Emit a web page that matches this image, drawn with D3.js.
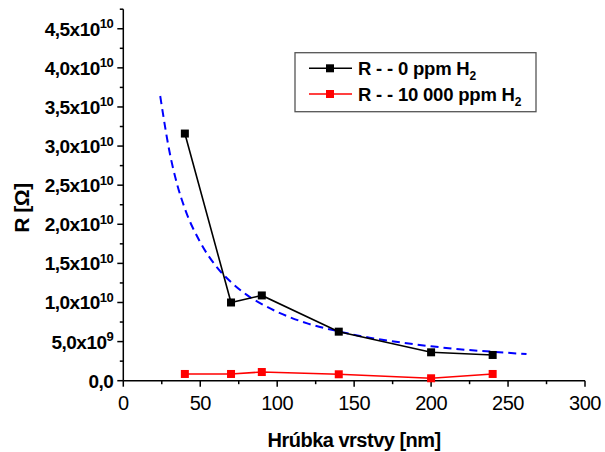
<!DOCTYPE html>
<html>
<head>
<meta charset="utf-8">
<script src="https://cdn.jsdelivr.net/npm/d3@7"></script>
<style>
  html, body { margin: 0; padding: 0; background: #fff; }
  svg { display: block; font-family: "Liberation Sans", Arial, sans-serif; }
</style>
</head>
<body>
<svg id="chart" width="605" height="452"></svg>
<script>
// Layer thickness (nm) and measured resistance (Ohm)
const thickness = [40, 70, 90, 140, 200, 240];
const r0ppm = [3.16e10, 1.0e10, 1.09e10, 6.27e9, 3.63e9, 3.29e9];
const r10000ppm = [8.6e8, 8.6e8, 1.11e9, 8.2e8, 3.1e8, 8.6e8];

// Fitted trend curve (dashed)
const fitX = [24, 30, 35, 40, 50, 60, 70, 80, 90, 100, 120, 140, 160, 180, 200, 220, 240, 262];
const fitY = [3.64e10, 2.93e10, 2.51e10, 2.20e10, 1.77e10, 1.47e10, 1.26e10, 1.10e10, 0.98e10,
              0.88e10, 0.73e10, 0.63e10, 0.55e10, 0.49e10, 0.44e10, 0.40e10, 0.37e10, 0.34e10];

// Axis ticks
const xTicks = [0, 50, 100, 150, 200, 250, 300];
const yTicks = [0, 5e9, 1e10, 1.5e10, 2e10, 2.5e10, 3e10, 3.5e10, 4e10, 4.5e10];
const yTickMantissa = ["0,0", "5,0", "1,0", "1,5", "2,0", "2,5", "3,0", "3,5", "4,0", "4,5"];
const yTickExponent = ["", "9", "10", "10", "10", "10", "10", "10", "10", "10"];

const legendLabels = ["R - - 0 ppm H", "R - - 10 000 ppm H"];
const seriesColors = ["#000000", "#ff0000"];

const svg = d3.select("#chart");
const plotLeft = 123.3, plotRight = 585, plotBottom = 380.7, plotTop = 9.2;

const x = d3.scaleLinear().domain([0, 300]).range([plotLeft, plotRight]);
const y = d3.scaleLinear().domain([0, 4.75e10]).range([plotBottom, plotTop]);

// X axis
const xAxis = svg.append("g").attr("transform", `translate(0,${plotBottom})`);
xAxis.append("line").attr("x1", plotLeft).attr("x2", plotRight).attr("stroke", "#000").attr("stroke-width", 1.5);
d3.range(0, 301, 25).forEach(v => {
  const major = v % 50 === 0;
  xAxis.append("line").attr("x1", x(v)).attr("x2", x(v))
    .attr("y1", 0).attr("y2", major ? 6 : 3.5)
    .attr("stroke", "#000").attr("stroke-width", 1.5);
});
xAxis.selectAll("text.tick").data(xTicks).enter().append("text")
  .attr("x", d => x(d)).attr("y", 29.5)
  .attr("text-anchor", "middle")
  .attr("font-size", 20).attr("fill", "#000")
  .attr("letter-spacing", -0.5)
  .text(d => d);

// Y axis
const yAxis = svg.append("g").attr("transform", `translate(${plotLeft},0)`);
yAxis.append("line").attr("y1", y(0)).attr("y2", y(4.75e10)).attr("stroke", "#000").attr("stroke-width", 1.5);
d3.range(0, 20).forEach(i => {
  const v = i * 2.5e9;
  const major = i % 2 === 0;
  yAxis.append("line").attr("x1", major ? -6 : -3.5).attr("x2", 0)
    .attr("y1", y(v)).attr("y2", y(v))
    .attr("stroke", "#000").attr("stroke-width", 1.5);
});
const yLab = yAxis.selectAll("text.ytick").data(yTicks).enter().append("text")
  .attr("x", -10).attr("y", d => y(d) + 7)
  .attr("text-anchor", "end")
  .attr("font-size", 19).attr("font-weight", "bold").attr("fill", "#000")
  .attr("letter-spacing", -0.5);
yLab.each(function (d, i) {
  const t = d3.select(this);
  if (yTickExponent[i] === "") {
    t.text(yTickMantissa[i]);
  } else {
    t.append("tspan").text(yTickMantissa[i] + "x10");
    t.append("tspan").attr("dy", -7.5).attr("font-size", 13).attr("letter-spacing", -0.5).text(yTickExponent[i]);
  }
});

// Axis titles
svg.append("text")
  .attr("x", x(150)).attr("y", 446.5)
  .attr("text-anchor", "middle")
  .attr("font-size", 20).attr("font-weight", "bold")
  .attr("letter-spacing", -0.5)
  .text("Hrúbka vrstvy [nm]");
svg.append("text")
  .attr("transform", "translate(29,208) rotate(-90)")
  .attr("text-anchor", "middle")
  .attr("font-size", 21).attr("font-weight", "bold")
  .attr("letter-spacing", -0.5)
  .text("R [Ω]");

// Fitted curve
const fitData = fitX.map((d, i) => [d, fitY[i]]);
svg.append("path")
  .datum(fitData)
  .attr("d", d3.line().x(d => x(d[0])).y(d => y(d[1])).curve(d3.curveMonotoneX))
  .attr("fill", "none").attr("stroke", "#0000ff")
  .attr("stroke-width", 2).attr("stroke-dasharray", "8,5");

// Measured series
const series = [r0ppm, r10000ppm];
series.forEach((vals, si) => {
  const data = thickness.map((t, i) => [t, vals[i]]);
  svg.append("path")
    .datum(data)
    .attr("d", d3.line().x(d => x(d[0])).y(d => y(d[1])))
    .attr("fill", "none").attr("stroke", seriesColors[si]).attr("stroke-width", 1.6);
  svg.selectAll(null).data(data).enter().append("rect")
    .attr("x", d => x(d[0]) - 4).attr("y", d => y(d[1]) - 4)
    .attr("width", 8).attr("height", 8)
    .attr("fill", seriesColors[si]);
});

// Legend
const legend = svg.append("g");
legend.append("rect")
  .attr("x", 295).attr("y", 52.7).attr("width", 241).attr("height", 59)
  .attr("fill", "#fff").attr("stroke", "#555").attr("stroke-width", 1.3);
legendLabels.forEach((lab, i) => {
  const ly = 68.3 + i * 25.7;
  legend.append("line").attr("x1", 309).attr("x2", 352).attr("y1", ly).attr("y2", ly)
    .attr("stroke", seriesColors[i]).attr("stroke-width", 1.6);
  legend.append("rect").attr("x", 326).attr("y", ly - 4).attr("width", 8).attr("height", 8)
    .attr("fill", seriesColors[i]);
  const t = legend.append("text")
    .attr("x", 358).attr("y", ly + 6.5)
    .attr("font-size", 18.5).attr("font-weight", "bold")
    .attr("letter-spacing", -0.2);
  t.append("tspan").text(lab);
  t.append("tspan").attr("dy", 5).attr("font-size", 12).text("2");
});
</script>
</body>
</html>
